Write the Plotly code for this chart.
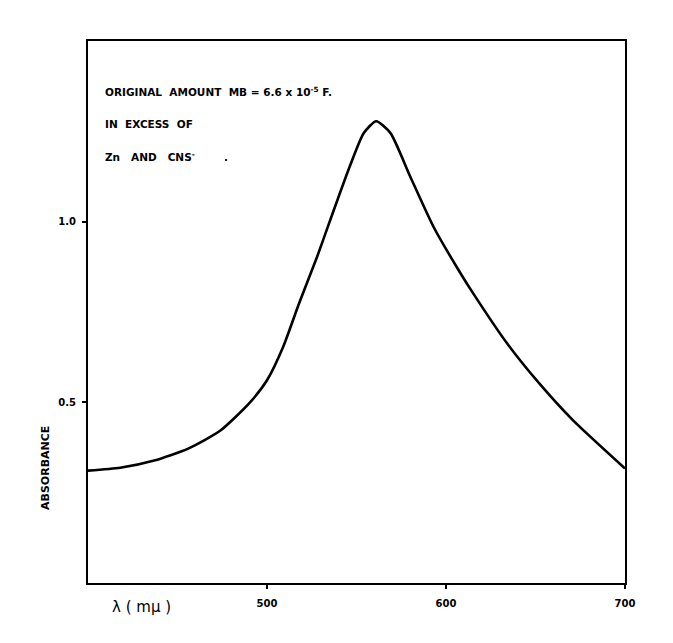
import plotly.graph_objects as go

# Absorption spectrum
wavelength = [400, 418, 437, 456, 474, 490, 500, 509, 518, 528, 535, 546, 554, 561,
              569, 580, 593, 608, 615, 634, 652, 671, 700]
absorbance = [0.311, 0.319, 0.339, 0.372, 0.422, 0.497, 0.561, 0.653, 0.775, 0.903,
              1.0, 1.15, 1.245, 1.278, 1.245, 1.125, 0.986, 0.858, 0.803,
              0.664, 0.553, 0.45, 0.317]

x_ticks = [500, 600, 700]
y_ticks = [0.5, 1.0]
y_tick_labels = ["0.5", "1.0"]
note_lines = ["ORIGINAL  AMOUNT  MB = 6.6 x 10<sup>-5</sup> F.",
              "IN  EXCESS  OF",
              "Zn   AND   CNS<sup>-</sup>        ."]

W, H = 673, 643
L, R, T, B = 88, 48, 41, 60
pw, ph = W - L - R, H - T - B

def px(x):
    return (x - L) / pw

def py(y):
    return (H - B - y) / ph

fig = go.Figure()
fig.add_trace(go.Scatter(x=wavelength, y=absorbance, mode="lines",
                         line=dict(color="black", width=2.6, shape="spline", smoothing=0.6),
                         showlegend=False, hoverinfo="skip"))

tickfont = dict(family="DejaVu Sans", size=10, color="black", weight="bold")
fig.update_xaxes(range=[400, 700], tickvals=x_ticks, ticktext=[str(v) for v in x_ticks],
                 showgrid=False, zeroline=False, showline=True, linecolor="black",
                 linewidth=2, mirror=True, ticks="outside", ticklen=4, tickwidth=1.5,
                 tickcolor="black", tickfont=tickfont, ticklabelstandoff=6)
fig.update_yaxes(range=[0, 1.5], tickvals=y_ticks, ticktext=y_tick_labels,
                 showgrid=False, zeroline=False, showline=True, linecolor="black",
                 linewidth=2, mirror=True, ticks="outside", ticklen=4, tickwidth=1.5,
                 tickcolor="black", tickfont=tickfont, ticklabelstandoff=4)

ann_font = dict(family="DejaVu Sans", size=10.5, color="black", weight="bold")
for line, ypix in zip(note_lines, [92, 124, 156]):
    fig.add_annotation(x=px(103), y=py(ypix), xref="paper", yref="paper",
                       text=line, showarrow=False, xanchor="left", yanchor="middle",
                       font=ann_font)

fig.add_annotation(x=px(141), y=py(607), xref="paper", yref="paper",
                   text="λ ( mμ )", showarrow=False, xanchor="center", yanchor="middle",
                   font=dict(family="DejaVu Sans", size=15, color="black"))
fig.add_annotation(x=px(45), y=py(468), xref="paper", yref="paper",
                   text="ABSORBANCE", showarrow=False, textangle=-90,
                   xanchor="center", yanchor="middle",
                   font=dict(family="DejaVu Sans", size=11, color="black", weight="bold"))

fig.update_layout(width=W, height=H, margin=dict(l=L, r=R, t=T, b=B),
                  paper_bgcolor="white", plot_bgcolor="white")

fig.write_html("out.html")
